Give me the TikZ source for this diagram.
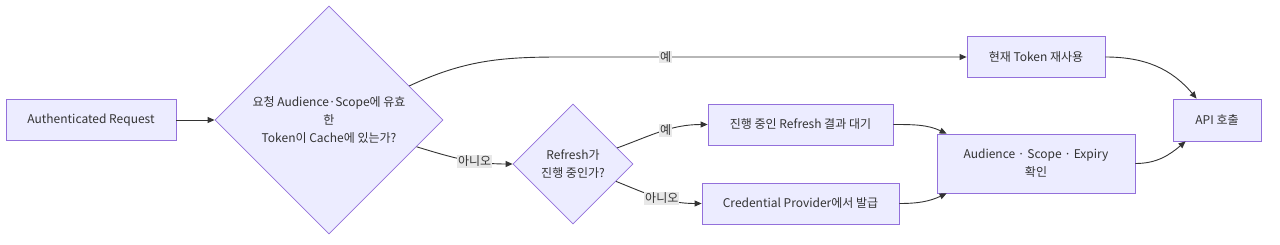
\documentclass[tikz,border=0pt]{standalone}
\usepackage{fontspec}
\setmainfont{Noto Sans CJK KR}
\usetikzlibrary{arrows.meta,positioning,shapes.geometric}
\definecolor{nodefill}{HTML}{ECECFF}
\definecolor{nodeline}{HTML}{9370DB}
\definecolor{edgeline}{HTML}{333333}
\definecolor{lblfill}{HTML}{E8E8E8}
\tikzset{
  blk/.style={draw=nodeline,fill=nodefill,rectangle,minimum height=41pt,line width=0.8pt,align=center,inner sep=0pt,text=edgeline,font=\fontsize{12}{18}\selectfont},
  decblk/.style={blk,diamond,aspect=1},
  arr/.style={-{Triangle[length=7pt,width=6pt]},draw=edgeline,line width=0.9pt},
  lbl/.style={fill=lblfill,inner sep=1pt,text=edgeline,font=\fontsize{12}{14}\selectfont}
}
\begin{document}
\begin{tikzpicture}[x=1pt,y=1pt]
  \useasboundingbox (0,0) rectangle (1280,-244);
  \node[blk,minimum width=170pt] (req) at (91,-120) {Authenticated Request};
  \node[decblk,minimum width=228pt,minimum height=228pt] (cache) at (329,-120) {요청 Audience·Scope에 유효\\한\\Token이 Cache에 있는가?};
  \node[decblk,minimum width=120pt,minimum height=120pt] (busy) at (573,-164) {Refresh가\\진행 중인가?};
  \node[blk,minimum width=185pt] (wait) at (800.5,-124.5) {진행 중인 Refresh 결과 대기};
  \node[blk,minimum width=197pt] (issue) at (800.5,-203.5) {Credential Provider에서 발급};
  \node[blk,minimum width=138pt] (reuse) at (1036,-57) {현재 Token 재사용};
  \node[blk,minimum width=198pt,minimum height=59pt] (check) at (1036,-163.5) {Audience · Scope · Expiry\\확인};
  \node[blk,minimum width=88pt,minimum height=42pt] (api) at (1217,-120) {API 호출};

  \draw[arr] (req) -- (cache);
  \draw[arr] (cache.23) to[out=25,in=180] (560,-57) -- node[lbl,pos=0.26]{예} (reuse);
  \draw[arr] (cache.-17) to[out=-17,in=180] node[lbl,pos=0.62]{아니오} (busy.west);
  \draw[arr] (busy.20) to[out=20,in=180] node[lbl,pos=0.55]{예} (wait.west);
  \draw[arr] (busy.-22) to[out=-22,in=180] node[lbl,pos=0.55]{아니오} (issue.west);
  \draw[arr] (wait.east) to[out=0,in=155] ([xshift=10pt]check.north west);
  \draw[arr] (issue.east) to[out=0,in=-155] ([xshift=10pt]check.south west);
  \draw[arr] (reuse.east) to[out=0,in=130] ([xshift=24pt]api.north west);
  \draw[arr] (check.east) to[out=0,in=-140] ([xshift=13pt]api.south west);
\end{tikzpicture}
\end{document}
